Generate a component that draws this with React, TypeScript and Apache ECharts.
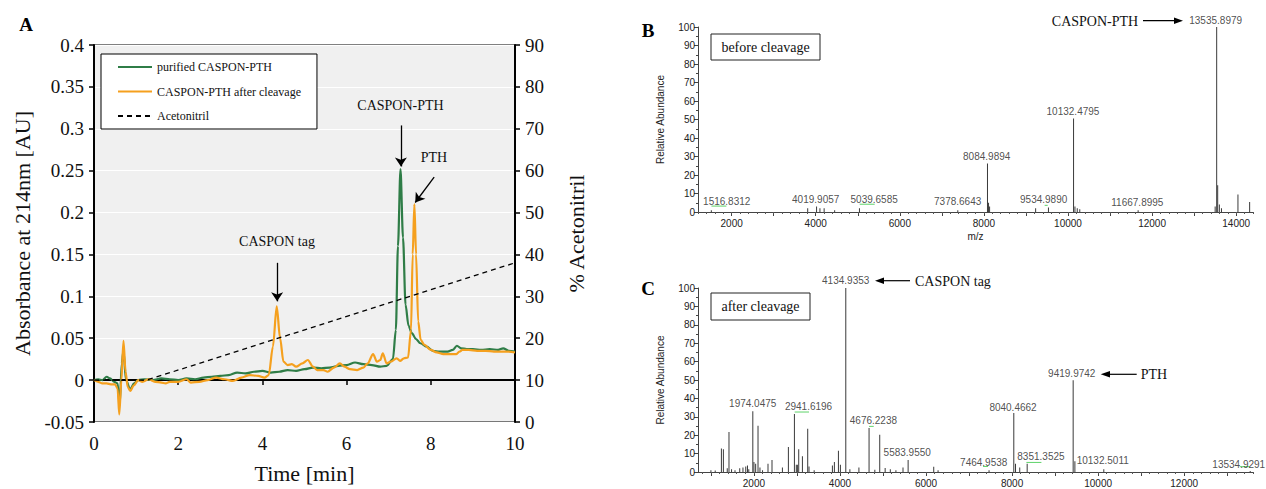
import React, { useEffect, useRef } from "react";
import * as echarts from "echarts";

// ---------- Panel A: HPLC chromatogram ----------
const greenTime = [0, 0.1, 0.2, 0.3, 0.38, 0.48, 0.56, 0.61, 0.66, 0.7, 0.76, 0.86, 0.95, 1.05, 1.2, 1.4, 1.6, 1.8, 2.0, 2.2, 2.4, 2.6, 2.8, 3.0, 3.2, 3.4, 3.6, 3.8, 4.0, 4.2, 4.4, 4.6, 4.8, 5.0, 5.2, 5.4, 5.6, 5.8, 6.0, 6.2, 6.4, 6.6, 6.8, 6.95, 7.1, 7.17, 7.22, 7.28, 7.34, 7.4, 7.47, 7.55, 7.65, 7.75, 7.9, 8.05, 8.2, 8.4, 8.52, 8.62, 8.72, 8.85, 9.0, 9.2, 9.4, 9.6, 9.72, 9.85, 10.0];
const greenAbs = [0, 0.001, 0, 0.004, 0.002, -0.002, -0.004, -0.03, 0.02, 0.035, 0.0, -0.011, -0.004, 0.0, 0.001, 0.0, 0.002, 0.001, 0.0, 0.002, 0.001, 0.003, 0.004, 0.005, 0.006, 0.009, 0.008, 0.01, 0.011, 0.009, 0.01, 0.012, 0.011, 0.013, 0.015, 0.014, 0.015, 0.017, 0.018, 0.021, 0.019, 0.018, 0.016, 0.017, 0.025, 0.06, 0.16, 0.252, 0.17, 0.09, 0.065, 0.056, 0.049, 0.044, 0.04, 0.035, 0.034, 0.034, 0.036, 0.041, 0.038, 0.037, 0.037, 0.036, 0.037, 0.036, 0.038, 0.035, 0.034];

const orangeTime = [0, 0.1, 0.2, 0.3, 0.4, 0.5, 0.56, 0.6, 0.65, 0.7, 0.75, 0.8, 0.86, 0.95, 1.05, 1.15, 1.3, 1.45, 1.6, 1.7, 1.8, 2.0, 2.2, 2.3, 2.5, 2.7, 2.9, 3.1, 3.3, 3.5, 3.7, 3.9, 4.05, 4.15, 4.25, 4.34, 4.42, 4.5, 4.6, 4.7, 4.8, 4.95, 5.08, 5.2, 5.3, 5.45, 5.55, 5.7, 5.84, 5.95, 6.08, 6.25, 6.4, 6.5, 6.63, 6.72, 6.8, 6.86, 6.95, 7.05, 7.19, 7.27, 7.36, 7.46, 7.53, 7.57, 7.61, 7.65, 7.7, 7.76, 7.85, 8.0, 8.14, 8.3, 8.46, 8.6, 8.68, 8.75, 8.9, 9.1, 9.3, 9.5, 9.7, 9.85, 10.0];
const orangeAbs = [0, -0.002, -0.004, -0.004, -0.005, -0.005, -0.01, -0.041, 0.0, 0.047, 0.01, -0.008, -0.013, -0.006, 0.0, -0.002, 0.001, -0.002, -0.003, -0.004, -0.002, -0.002, 0.001, -0.003, -0.002, 0.0, 0.003, 0.001, -0.001, 0.003, 0.006, 0.005, 0.003, 0.006, 0.04, 0.088, 0.05, 0.022, 0.018, 0.019, 0.016, 0.02, 0.024, 0.016, 0.012, 0.012, 0.01, 0.015, 0.02, 0.016, 0.013, 0.012, 0.015, 0.02, 0.031, 0.022, 0.024, 0.032, 0.02, 0.022, 0.026, 0.023, 0.026, 0.027, 0.06, 0.15, 0.21, 0.15, 0.07, 0.048, 0.042, 0.036, 0.033, 0.031, 0.031, 0.031, 0.034, 0.036, 0.036, 0.035, 0.035, 0.034, 0.034, 0.034, 0.033];

const acnTime = [0, 1.25, 10];
const acnPct = [10, 10, 38];

const seriesNamesA = ["purified CASPON-PTH", "CASPON-PTH after cleavage", "Acetonitril"];

// ---------- Panel B: MS before cleavage ----------
const bMz = [1517, 3809, 4020, 4100, 4200, 4450, 5040, 7379, 8085, 8110, 8135, 9230, 9535, 10132, 10165, 10220, 10280, 11668, 13500, 13536, 13560, 13600, 13650, 14042, 14320];
const bInt = [1, 2, 3, 2, 2, 1, 2, 1, 26.2, 5, 3, 2, 2.5, 50.5, 3, 2, 1.5, 1, 3, 100, 14.5, 4, 2, 9.4, 5.4];
const bLabelText = ["1516.8312", "4019.9057", "5039.6585", "7378.6643", "8084.9894", "9534.9890", "10132.4795", "11667.8995", "13535.8979"];
const bLabelMz = [1883, 3999, 5390, 7376, 8066, 9421, 10118, 11649, 13512];
const bLabelY = [5.9, 6.9, 6.9, 5.8, 30.1, 6.9, 54.1, 5.1, 103.6];
const bMarkFrom = [1519, 5045, 9445];
const bMarkTo = [1875, 5402, 9517];
const bMarkY = [3.2, 4.2, 3.6];

// ---------- Panel C: MS after cleavage ----------
const cMz = [1000, 1100, 1244, 1290, 1380, 1420, 1480, 1560, 1670, 1745, 1810, 1850, 1880, 1974, 2000, 2040, 2095, 2140, 2200, 2327, 2420, 2662, 2801, 2941, 2985, 3010, 3041, 3127, 3250, 3280, 3400, 3824, 3870, 3964, 4010, 4135, 4230, 4440, 4676, 4810, 4924, 5050, 5170, 5300, 5465, 5584, 6179, 6280, 7465, 8040, 8080, 8178, 8351, 9420, 9460, 10132, 13535];
const cInt = [1, 0.8, 12.8, 12.3, 2, 21.7, 1.5, 1, 2, 2.5, 3, 3.5, 1.5, 33, 5.5, 4.5, 25.2, 2.5, 1, 4.5, 6.5, 2.5, 13.6, 31.5, 4, 4, 12.3, 8.5, 23.5, 3, 1, 3.5, 5.5, 11.6, 4, 100, 1.5, 2.5, 23.9, 1.2, 20.3, 2.2, 1.5, 1, 2.5, 6.5, 2.8, 1, 1, 32, 4.5, 2.5, 4.5, 49.8, 5.8, 1.5, 0.6];
const cLabelText = ["1974.0475", "2941.6196", "4134.9353", "4676.2238", "5583.9550", "7464.9538", "8040.4662", "8351.3525", "9419.9742", "10132.5011", "13534.9291"];
const cLabelMz = [1972, 3269, 4133, 4777, 5563, 7341, 8022, 8671, 9387, 10107, 13269];
const cLabelY = [37.1, 35.5, 104.1, 27.9, 10.7, 5.4, 35.1, 8.5, 53.3, 6.1, 4.0];
const cMarkFrom = [2948, 4675, 8333, 7325, 13291];
const cMarkTo = [3280, 4784, 8682, 7441, 13524];
const cMarkY = [32.6, 24.8, 5.2, 3.0, 2.9];

const msLabelsEvery = [2000, 4000, 6000, 8000, 10000, 12000, 14000];
const msMajorTicks = [1000, 2000, 3000, 4000, 5000, 6000, 7000, 8000, 9000, 10000, 11000, 12000, 13000, 14000];

const SERIF = '"Liberation Serif", "Times New Roman", serif';
const SANS = '"Liberation Sans", Arial, sans-serif';
const GREEN = "#2f7d47";
const ORANGE = "#f5a01e";

function zip(a: number[], b: number[]) {
  return a.map((v, i) => [v, b[i]]);
}

function minorTicks(from: number, to: number, step: number) {
  const out: number[] = [];
  for (let v = from; v <= to; v += step) out.push(v);
  return out;
}

function msXAxis(grid: number, min: number, max: number, withName: boolean) {
  return [
    {
      type: "value",
      gridIndex: grid,
      min,
      max,
      position: "bottom",
      axisLine: { show: true, lineStyle: { color: "#444", width: 1 } },
      axisTick: { show: true, length: 4, customValues: msMajorTicks.filter((v) => v >= min && v <= max), lineStyle: { color: "#444" } },
      axisLabel: {
        show: true,
        customValues: msLabelsEvery.filter((v) => v >= min && v <= max),
        formatter: (v: number) => String(Math.round(v)),
        fontFamily: SANS,
        fontSize: 10,
        color: "#222",
        margin: 6,
      },
      splitLine: { show: false },
      name: withName ? "m/z" : "",
      nameLocation: "middle",
      nameGap: 19,
      nameTextStyle: { fontFamily: SANS, fontSize: 10, color: "#222" },
    },
    {
      type: "value",
      gridIndex: grid,
      min,
      max,
      position: "bottom",
      axisLine: { show: false },
      axisTick: { show: true, length: 2, customValues: minorTicks(Math.ceil(min / 200) * 200, max, 200), lineStyle: { color: "#555" } },
      axisLabel: { show: false },
      splitLine: { show: false },
    },
  ];
}

function msYAxis(grid: number) {
  return {
    type: "value",
    gridIndex: grid,
    min: 0,
    max: 100,
    interval: 10,
    axisLine: { show: true, lineStyle: { color: "#444", width: 1 } },
    axisTick: { show: true, length: 4, lineStyle: { color: "#444" } },
    minorTick: { show: true, splitNumber: 2, length: 2, lineStyle: { color: "#444" } },
    axisLabel: { fontFamily: SANS, fontSize: 10, color: "#222", margin: 3 },
    splitLine: { show: false },
    name: "Relative Abundance",
    nameLocation: "middle",
    nameGap: 33,
    nameTextStyle: { fontFamily: SANS, fontSize: 10, color: "#222" },
  };
}

function markRender(params: any, api: any) {
  const p1 = api.coord([api.value(0), api.value(2)]);
  const p2 = api.coord([api.value(1), api.value(2)]);
  return {
    type: "line",
    shape: { x1: p1[0], y1: p1[1], x2: p2[0], y2: p2[1] },
    style: { stroke: "#5fd36a", lineWidth: 1 },
  };
}

const SOLID_ICON = "path://M0,0H34V2H0Z";
const DASH_ICON = "path://M0,0H5V2H0Z M9,0H14V2H9Z M18,0H23V2H18Z M27,0H32V2H27Z M34,0H34.01V2H34Z";

export default function App() {
  const ref = useRef<HTMLDivElement>(null);
  useEffect(() => {
    if (!ref.current) return;
    const chart = echarts.init(ref.current, undefined, { renderer: "svg" });
    const arrowStyle = { color: "#000", width: 1.3, type: "solid" };
    const option: any = {
      animation: false,
      backgroundColor: "#fff",
      textStyle: { fontFamily: SERIF },
      legend: {
        data: [
          { name: seriesNamesA[0], icon: SOLID_ICON },
          { name: seriesNamesA[1], icon: SOLID_ICON },
          { name: seriesNamesA[2], icon: DASH_ICON },
        ],
        orient: "vertical",
        left: 101,
        top: 54,
        itemWidth: 34,
        itemHeight: 2,
        itemGap: 10.5,
        backgroundColor: "#fff",
        borderColor: "#000",
        borderWidth: 1,
        borderRadius: 0,
        padding: [6, 16, 6, 17],
        textStyle: { fontFamily: SERIF, fontSize: 12, color: "#111", lineHeight: 14 },
        selectedMode: false,
      },
      grid: [
        { left: 94, top: 45, width: 421, height: 379, show: true, backgroundColor: "#f0f0f0", borderColor: "#000", borderWidth: 1 },
        { left: 698, top: 27, width: 555, height: 185 },
        { left: 698, top: 288, width: 555, height: 184 },
      ],
      xAxis: [
        {
          type: "value",
          gridIndex: 0,
          min: 0,
          max: 10,
          interval: 2,
          axisLine: { show: true, lineStyle: { color: "#000", width: 2 } },
          axisTick: { show: true, length: 5, lineStyle: { color: "#000", width: 1.5 } },
          axisLabel: { fontFamily: SERIF, fontSize: 19, color: "#111", margin: 12 },
          splitLine: { show: false },
          name: "Time [min]",
          nameLocation: "middle",
          nameGap: 40,
          nameTextStyle: { fontFamily: SERIF, fontSize: 22, color: "#111" },
        },
        ...msXAxis(1, 1200, 14400, true),
        ...msXAxis(2, 700, 13600, false),
      ],
      yAxis: [
        {
          type: "value",
          gridIndex: 0,
          min: -0.05,
          max: 0.4,
          interval: 0.05,
          axisLine: { show: true, lineStyle: { color: "#000", width: 2 } },
          axisTick: { show: true, length: 5, lineStyle: { color: "#000", width: 1.5 } },
          axisLabel: { fontFamily: SERIF, fontSize: 19, color: "#111", margin: 10 },
          splitLine: { show: true, lineStyle: { color: "#ffffff", width: 1 } },
          name: "Absorbance at 214nm [AU]",
          nameLocation: "middle",
          nameGap: 61,
          nameTextStyle: { fontFamily: SERIF, fontSize: 22, color: "#111" },
        },
        {
          type: "value",
          gridIndex: 0,
          position: "right",
          min: 0,
          max: 90,
          interval: 10,
          axisLine: { show: true, lineStyle: { color: "#000", width: 2 } },
          axisTick: { show: true, length: 5, lineStyle: { color: "#000", width: 1.5 } },
          axisLabel: { fontFamily: SERIF, fontSize: 19, color: "#111", margin: 10 },
          splitLine: { show: false },
          name: "% Acetonitril",
          nameLocation: "middle",
          nameGap: 50,
          nameTextStyle: { fontFamily: SERIF, fontSize: 22, color: "#111" },
        },
        msYAxis(1),
        msYAxis(2),
      ],
      series: [
        {
          name: seriesNamesA[0],
          type: "line",
          xAxisIndex: 0,
          yAxisIndex: 0,
          data: zip(greenTime, greenAbs),
          symbol: "none",
          smooth: 0.3,
          smoothMonotone: "x",
          lineStyle: { color: GREEN, width: 2.2 },
          itemStyle: { color: GREEN },
          markLine: {
            silent: true,
            symbol: ["none", "arrow"],
            symbolSize: 9,
            lineStyle: arrowStyle,
            label: { show: false },
            data: [
              [{ coord: [4.35, 0.14] }, { coord: [4.35, 0.094] }],
              [{ coord: [7.29, 0.304] }, { coord: [7.29, 0.255] }],
              [{ coord: [8.08, 0.2424] }, { coord: [7.63, 0.212] }],
            ],
          },
        },
        {
          name: seriesNamesA[1],
          type: "line",
          xAxisIndex: 0,
          yAxisIndex: 0,
          data: zip(orangeTime, orangeAbs),
          symbol: "none",
          smooth: 0.3,
          smoothMonotone: "x",
          lineStyle: { color: ORANGE, width: 2.2 },
          itemStyle: { color: ORANGE },
        },
        {
          name: seriesNamesA[2],
          type: "line",
          xAxisIndex: 0,
          yAxisIndex: 1,
          data: zip(acnTime, acnPct),
          symbol: "none",
          lineStyle: { color: "#000", width: 1.3, type: [5, 4] },
          itemStyle: { color: "#000" },
          z: 3,
        },
        {
          name: "B spectrum",
          type: "bar",
          xAxisIndex: 1,
          yAxisIndex: 2,
          data: zip(bMz, bInt),
          barWidth: 1,
          itemStyle: { color: "#3a3a3a" },
        },
        {
          name: "B labels",
          type: "scatter",
          xAxisIndex: 1,
          yAxisIndex: 2,
          clip: false,
          symbolSize: 0,
          data: bLabelText.map((t, i) => ({ name: t, value: [bLabelMz[i], bLabelY[i]] })),
          label: { show: true, position: "inside", formatter: "{b}", fontFamily: SANS, fontSize: 10, color: "#222" },
        },
        {
          name: "B marks",
          type: "custom",
          xAxisIndex: 1,
          yAxisIndex: 2,
          renderItem: markRender,
          encode: { x: [0, 1], y: 2 },
          data: bMarkFrom.map((v, i) => [v, bMarkTo[i], bMarkY[i]]),
        },
        {
          name: "C spectrum",
          type: "bar",
          xAxisIndex: 3,
          yAxisIndex: 3,
          data: zip(cMz, cInt),
          barWidth: 1,
          itemStyle: { color: "#3a3a3a" },
        },
        {
          name: "C labels",
          type: "scatter",
          xAxisIndex: 3,
          yAxisIndex: 3,
          clip: false,
          symbolSize: 0,
          data: cLabelText.map((t, i) => ({ name: t, value: [cLabelMz[i], cLabelY[i]] })),
          label: { show: true, position: "inside", formatter: "{b}", fontFamily: SANS, fontSize: 10, color: "#222" },
        },
        {
          name: "C marks",
          type: "custom",
          xAxisIndex: 3,
          yAxisIndex: 3,
          renderItem: markRender,
          encode: { x: [0, 1], y: 2 },
          data: cMarkFrom.map((v, i) => [v, cMarkTo[i], cMarkY[i]]),
        },
      ],
      graphic: [
        { type: "text", x: 26, y: 24, style: { text: "A", fontFamily: SERIF, fontSize: 19, fontWeight: "bold", fill: "#000", align: "center", verticalAlign: "middle" } },
        { type: "text", x: 648, y: 30, style: { text: "B", fontFamily: SERIF, fontSize: 19, fontWeight: "bold", fill: "#000", align: "center", verticalAlign: "middle" } },
        { type: "text", x: 648, y: 288, style: { text: "C", fontFamily: SERIF, fontSize: 19, fontWeight: "bold", fill: "#000", align: "center", verticalAlign: "middle" } },
        { type: "text", x: 277, y: 241, style: { text: "CASPON tag", fontFamily: SERIF, fontSize: 14, fill: "#111", align: "center", verticalAlign: "middle" } },
        { type: "text", x: 400.5, y: 105, style: { text: "CASPON-PTH", fontFamily: SERIF, fontSize: 14, fill: "#111", align: "center", verticalAlign: "middle" } },
        { type: "text", x: 434, y: 157, style: { text: "PTH", fontFamily: SERIF, fontSize: 14, fill: "#111", align: "center", verticalAlign: "middle" } },
        // B annotations
        { type: "rect", shape: { x: 711, y: 34, width: 109, height: 26 }, style: { fill: "#fff", stroke: "#222", lineWidth: 1 } },
        { type: "text", x: 765.5, y: 47, style: { text: "before cleavage", fontFamily: SERIF, fontSize: 14, fill: "#111", align: "center", verticalAlign: "middle" } },
        { type: "text", x: 1095, y: 21, style: { text: "CASPON-PTH", fontFamily: SERIF, fontSize: 14, fill: "#111", align: "center", verticalAlign: "middle" } },
        { type: "line", shape: { x1: 1143, y1: 20.7, x2: 1176, y2: 20.7 }, style: { stroke: "#000", lineWidth: 1.2 } },
        { type: "polygon", shape: { points: [[1183, 20.7], [1174, 17.5], [1174, 24]] }, style: { fill: "#000" } },
        // C annotations
        { type: "rect", shape: { x: 711, y: 293, width: 99, height: 27 }, style: { fill: "#fff", stroke: "#222", lineWidth: 1 } },
        { type: "text", x: 760.5, y: 306.5, style: { text: "after cleavage", fontFamily: SERIF, fontSize: 14, fill: "#111", align: "center", verticalAlign: "middle" } },
        { type: "line", shape: { x1: 910, y1: 280.7, x2: 882, y2: 280.7 }, style: { stroke: "#000", lineWidth: 1.2 } },
        { type: "polygon", shape: { points: [[875, 280.7], [884, 277.5], [884, 284]] }, style: { fill: "#000" } },
        { type: "text", x: 915, y: 281, style: { text: "CASPON tag", fontFamily: SERIF, fontSize: 14, fill: "#111", align: "left", verticalAlign: "middle" } },
        { type: "line", shape: { x1: 1136.7, y1: 374.3, x2: 1108, y2: 374.3 }, style: { stroke: "#000", lineWidth: 1.2 } },
        { type: "polygon", shape: { points: [[1100.7, 374.3], [1110, 371], [1110, 377.6]] }, style: { fill: "#000" } },
        { type: "text", x: 1140.7, y: 374.5, style: { text: "PTH", fontFamily: SERIF, fontSize: 14, fill: "#111", align: "left", verticalAlign: "middle" } },
      ],
    };
    chart.setOption(option);
    return () => chart.dispose();
  }, []);
  return <div ref={ref} style={{ position: "fixed", left: 0, top: 0, width: 1266, height: 489 }} />;
}
